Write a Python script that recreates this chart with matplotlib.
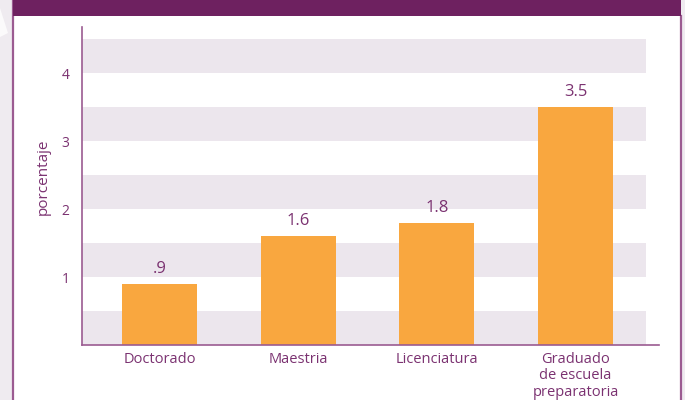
import matplotlib.pyplot as plt
from matplotlib.patches import Rectangle, Polygon
import numpy as np

categorias = ['Doctorado', 'Maestria', 'Licenciatura', 'Graduado\nde escuela\npreparatoria']
valores = [0.9, 1.6, 1.8, 3.5]
etiquetas = ['.9', '1.6', '1.8', '3.5']
yticks = [1, 2, 3, 4]

morado = '#6e2160'
texto = '#7b3271'
borde = '#9b5b91'
naranja = '#f9a73f'
gris = '#ece6ed'

plt.rcParams['font.family'] = ['Open Sans', 'DejaVu Sans']

W, H = 685, 400
fig = plt.figure(figsize=(W / 100, H / 100), dpi=100, facecolor='#efebf0')

# panel blanco con borde y banda superior
fig.patches.append(Polygon([(0, 1 - 8 / H), (8 / W, 1 - 33 / H), (0, 1 - 37 / H)],
                           closed=True, transform=fig.transFigure,
                           facecolor='#fbfafb', edgecolor='none', zorder=-3))
fig.patches.append(Rectangle((13 / W, 0), 668 / W, 1, transform=fig.transFigure,
                             facecolor='white', edgecolor='none', zorder=-2))
fig.patches.append(Rectangle((13 / W, 1 - 16 / H), 668 / W, 16 / H, transform=fig.transFigure,
                             facecolor=morado, edgecolor='none', zorder=-1))
fig.lines.append(plt.Line2D([13 / W, 13 / W], [0, 1], transform=fig.transFigure, color=borde, lw=1.6, zorder=-1))
fig.lines.append(plt.Line2D([681 / W, 681 / W], [0, 1 - 16 / H], transform=fig.transFigure, color=borde, lw=1.6, zorder=-1))

ax = fig.add_axes([82 / W, 1 - 345 / H, 577 / W, 318 / H])
ax.set_facecolor('none')
ax.set_zorder(2)

x = np.arange(len(categorias))
ax.set_xlim(-0.559, 3.601)
ax.set_ylim(0, 4.68)

# franjas de fondo
for y0 in np.arange(0, 4.5, 1.0):
    ax.axhspan(y0, y0 + 0.5, xmin=0, xmax=0.9775, color=gris, lw=0, zorder=0)

ax.bar(x, valores, width=0.54, color=naranja, zorder=2)
for xi, v, t in zip(x, valores, etiquetas):
    ax.text(xi, v + 0.1, t, ha='center', va='bottom', fontsize=12, color=texto)

ax.set_xticks(x)
ax.set_xticklabels(categorias, fontsize=10.5, color=texto, linespacing=1.12)
ax.set_yticks(yticks)
ax.set_yticklabels([str(t) for t in yticks], fontsize=10, color=texto)
ax.tick_params(axis='both', length=0)
ax.tick_params(axis='y', pad=9)
ax.tick_params(axis='x', pad=5)
ax.set_ylabel('porcentaje', fontsize=11, color=texto)
ax.yaxis.set_label_coords(-0.0537, 0.53)

for s in ['top', 'right']:
    ax.spines[s].set_visible(False)
ax.spines['left'].set_color(borde)
ax.spines['bottom'].set_color(borde)
ax.spines['left'].set_linewidth(1.2)
ax.spines['bottom'].set_linewidth(1.2)

plt.savefig('out.png', dpi=100, facecolor=fig.get_facecolor())
